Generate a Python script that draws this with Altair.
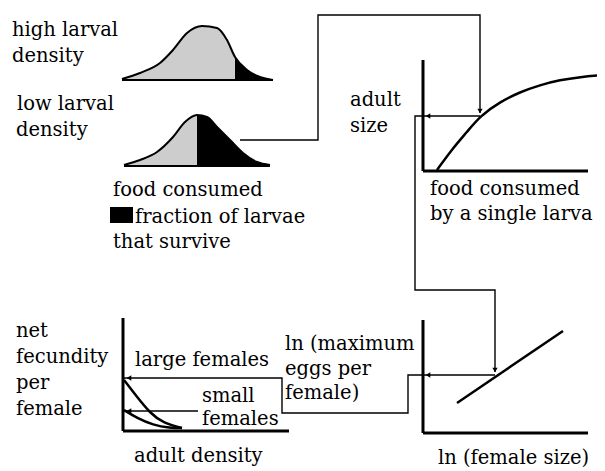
import altair as alt
import pandas as pd

# ---------------- data (reference pixel space, y grows downward) ----------------
# larval food distributions
high_x = [122, 140, 160, 173, 187, 202, 217, 227, 235, 247, 260, 273]
high_y = [79, 73, 63, 50, 33, 26, 28, 40, 57, 70, 77, 80]
high_base = 80
high_split = 235

low_x = [124, 140, 157, 173, 185, 197, 207, 217, 230, 243, 257, 270]
low_y = [165, 160, 152, 137, 122, 115, 117, 127, 140, 153, 162, 165]
low_base = 166
low_split = 197

# adult size vs food consumed
size_x = [437, 453, 467, 480, 500, 520, 540, 560, 580, 603]
size_y = [170, 148, 132, 116, 102, 92, 85, 80, 77, 75]

# net fecundity vs adult density
large_x = [124, 137, 150, 163, 182]
large_y = [380, 397, 413, 423, 428]
small_x = [124, 137, 153, 170, 182]
small_y = [410, 418, 425, 428, 428]

# ln(eggs) vs ln(size)
lnline_x = [457, 563]
lnline_y = [403, 331]

# connector paths
paths = {
    "p1": [(240, 140), (318, 140), (318, 15), (480, 15), (480, 113)],
    "p2": [(480, 116), (415, 116), (415, 290), (495, 290), (495, 372)],
    "p3": [(495, 375), (408, 375), (408, 413), (282, 413), (282, 378), (124, 378)],
    "p4": [(198, 411), (124, 411)],
}
arrow_heads = [
    (428, 116, "triangle-left"),
    (480, 111, "triangle-down"),
    (495, 370, "triangle-down"),
    (428, 375, "triangle-left"),
    (129, 378, "triangle-left"),
    (129, 411, "triangle-left"),
]

# axes of the small panels
axes_segments = [
    (423, 423, 60, 171), (423, 588, 171, 171),
    (123, 123, 318, 431), (123, 289, 431, 431),
    (423, 423, 320, 433), (423, 588, 433, 433),
]

legend_box = (110, 133, 207, 223)

labels = [
    ("high larval", 12, 36), ("density", 12, 62),
    ("low larval", 17, 110), ("density", 16, 136),
    ("food consumed", 113, 196), ("fraction of larvae", 135, 223), ("that survive", 113, 248),
    ("adult", 350, 106), ("size", 350, 132),
    ("food consumed", 430, 195), ("by a single larva", 430, 220),
    ("net", 16, 337), ("fecundity", 16, 363), ("per", 16, 389), ("female", 16, 415),
    ("large females", 135, 366), ("small", 202, 402), ("females", 202, 425),
    ("adult density", 134, 462),
    ("ln (maximum", 285, 350), ("eggs per", 285, 375), ("female)", 285, 399),
    ("ln (female size)", 438, 464),
]

# ---------------- build tables ----------------
def dist_frames(xs, ys, base, split, name):
    rows = []
    for x, y in zip(xs, ys):
        if x <= split:
            rows.append({"x": x, "y": y, "base": base, "part": "gray", "dist": name})
        if x >= split:
            rows.append({"x": x, "y": y, "base": base, "part": "black", "dist": name})
    return rows

dist_df = pd.DataFrame(dist_frames(high_x, high_y, high_base, high_split, "high")
                       + dist_frames(low_x, low_y, low_base, low_split, "low"))
outline_df = pd.DataFrame(
    [{"x": x, "y": y, "dist": "high"} for x, y in zip(high_x, high_y)]
    + [{"x": x, "y": y, "dist": "low"} for x, y in zip(low_x, low_y)]
)
base_df = pd.DataFrame([
    {"x": high_x[0], "x2": high_x[-1], "y": high_base},
    {"x": low_x[0], "x2": low_x[-1], "y": low_base},
])

curve_df = pd.DataFrame(
    [{"x": x, "y": y, "c": "size", "o": i} for i, (x, y) in enumerate(zip(size_x, size_y))]
    + [{"x": x, "y": y, "c": "large", "o": i} for i, (x, y) in enumerate(zip(large_x, large_y))]
    + [{"x": x, "y": y, "c": "small", "o": i} for i, (x, y) in enumerate(zip(small_x, small_y))]
)
straight_df = pd.DataFrame(
    [{"x": x, "y": y, "o": i} for i, (x, y) in enumerate(zip(lnline_x, lnline_y))]
)
path_df = pd.DataFrame(
    [{"x": x, "y": y, "p": k, "o": i} for k, pts in paths.items() for i, (x, y) in enumerate(pts)]
)
head_df = pd.DataFrame([{"x": x, "y": y, "s": s} for x, y, s in arrow_heads])
axes_df = pd.DataFrame([{"x": a, "x2": b, "y": c, "y2": d} for a, b, c, d in axes_segments])
box_df = pd.DataFrame([{"x": legend_box[0], "x2": legend_box[1], "y": legend_box[2], "y2": legend_box[3]}])
text_df = pd.DataFrame([{"t": t, "x": x, "y": y} for t, x, y in labels])

# ---------------- scales ----------------
W, H = 589, 463
xs = alt.Scale(domain=[8, 597], range=[0, W], zero=False, nice=False)
ys = alt.Scale(domain=[8, 471], range=[0, H], zero=False, nice=False)
X = lambda f="x": alt.X(f"{f}:Q", scale=xs, axis=None)
Y = lambda f="y": alt.Y(f"{f}:Q", scale=ys, axis=None)

FONT = "DejaVu Serif"

areas = alt.Chart(dist_df).mark_area(interpolate="monotone").encode(
    x=X(), y=Y(), y2="base:Q",
    color=alt.Color("part:N", scale=alt.Scale(domain=["gray", "black"], range=["#cdcdcd", "#000000"]), legend=None),
    detail="dist:N",
)
outlines = alt.Chart(outline_df).mark_line(interpolate="monotone", color="black", strokeWidth=2).encode(
    x=X(), y=Y(), detail="dist:N"
)
bases = alt.Chart(base_df).mark_rule(color="black", strokeWidth=2).encode(x=X(), x2="x2:Q", y=Y())

curves = alt.Chart(curve_df).mark_line(interpolate="basis", color="black", strokeWidth=2.5).encode(
    x=X(), y=Y(), detail="c:N", order="o:Q"
)
straight = alt.Chart(straight_df).mark_line(color="black", strokeWidth=2.5).encode(x=X(), y=Y(), order="o:Q")
conns = alt.Chart(path_df).mark_line(color="black", strokeWidth=1.4).encode(
    x=X(), y=Y(), detail="p:N", order="o:Q"
)
heads = alt.Chart(head_df).mark_point(filled=True, color="black", size=28, opacity=1).encode(
    x=X(), y=Y(), shape=alt.Shape("s:N", scale=None)
)
axes = alt.Chart(axes_df).mark_rule(color="black", strokeWidth=3).encode(
    x=X(), x2="x2:Q", y=Y(), y2="y2:Q"
)
box = alt.Chart(box_df).mark_rect(color="black").encode(x=X(), x2="x2:Q", y=Y(), y2="y2:Q")
texts = alt.Chart(text_df).mark_text(
    align="left", baseline="alphabetic", font=FONT, fontSize=19.5, color="black"
).encode(x=X(), y=Y(), text="t:N")

chart = alt.layer(areas, outlines, bases, curves, straight, conns, heads, axes, box, texts).properties(
    width=W, height=H, padding=0, autosize="none", background="white"
).configure_view(stroke=None).configure_text(font=FONT)

chart.save("out.html", embed_options={"renderer": "svg", "actions": False})
